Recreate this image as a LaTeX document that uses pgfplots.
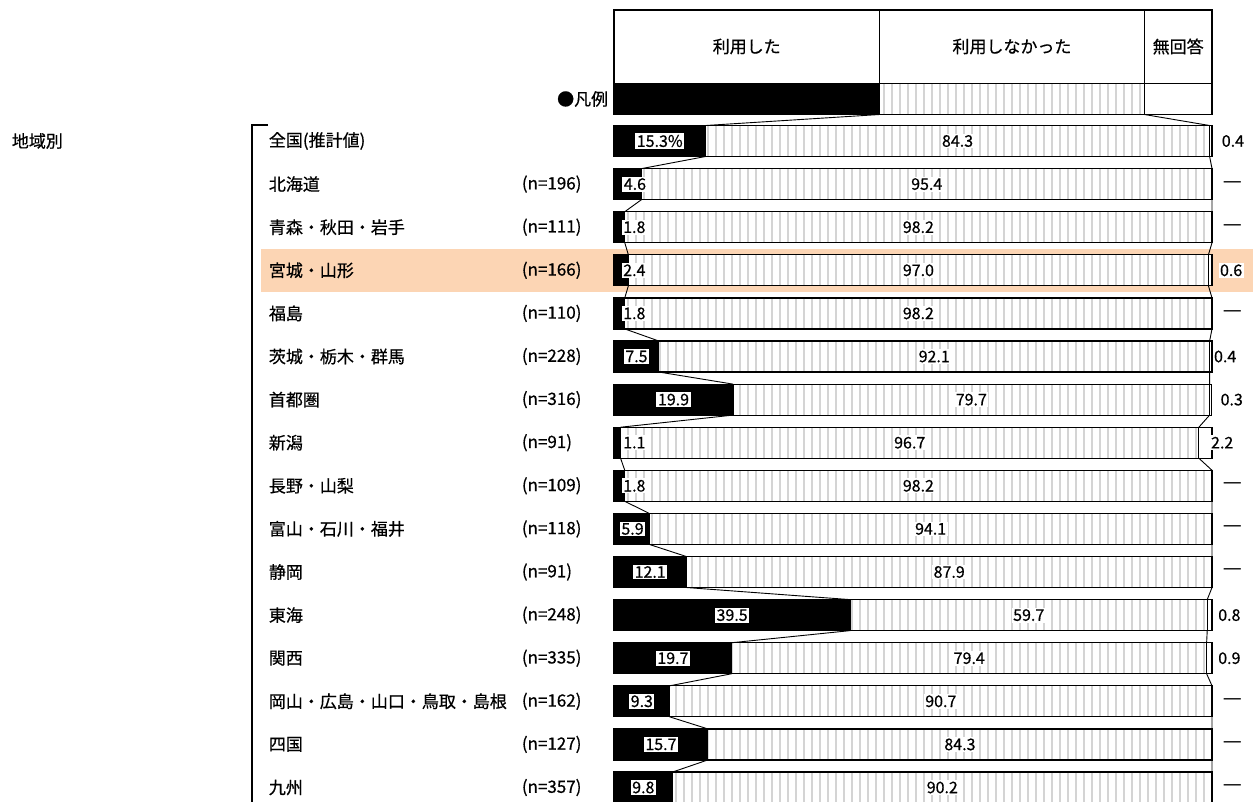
\documentclass[border=0pt]{standalone}
\usepackage{fontspec}
\setmainfont{Noto Sans CJK JP}[FakeBold=0.6]
\newfontfamily\dv{DejaVu Sans}
\usepackage{pgfplots}
\pgfplotsset{compat=1.18}
\usepackage{pgfplotstable}
\usetikzlibrary{patterns}
\definecolor{hl}{RGB}{252,213,180}
\definecolor{hatchc}{RGB}{212,212,212}
\pgfdeclarepatternformonly{vhatch}{\pgfpoint{0pt}{-2pt}}{\pgfpoint{8pt}{42pt}}{\pgfpoint{8pt}{40pt}}{%
  \pgfsetlinewidth{2pt}%
  \pgfpathmoveto{\pgfpoint{4pt}{-2pt}}\pgfpathlineto{\pgfpoint{4pt}{42pt}}\pgfusepath{stroke}}

\pgfplotstableread{
y     a    b    c
99.0  44.4 44.3 11.3
141.0 15.3 84.3 0.4
184.1 4.6  95.4 0
227.2 1.8  98.2 0
270.3 2.4  97.0 0.6
313.4 1.8  98.2 0
356.5 7.5  92.1 0.4
399.6 19.9 79.7 0.3
442.7 1.1  96.7 2.2
485.8 1.8  98.2 0
528.9 5.9  94.1 0
572.0 12.1 87.9 0
615.1 39.5 59.7 0.8
658.2 19.7 79.4 0.9
701.3 9.3  90.7 0
744.4 15.7 84.3 0
787.5 9.8  90.2 0
}\data

\tikzset{vl/.style={fill=white, inner sep=1.5pt, font=\fontsize{16pt}{18pt}\selectfont},
  nodash/.style={inner sep=1pt, font=\dv\fontsize{19pt}{20pt}\selectfont}}

\begin{document}
\fontsize{17pt}{20pt}\selectfont
\begin{tikzpicture}
\path[use as bounding box] (0pt,0pt) rectangle (1253pt,-801pt);
\fill[hl] (261pt,-249pt) rectangle (1253pt,-292pt);
\begin{axis}[
  at={(614pt,-801pt)}, anchor=south west,
  scale only axis, width=598pt, height=801pt,
  xmin=0, xmax=100, ymin=0, ymax=801, y dir=reverse,
  enlargelimits=false, hide axis, clip=false,
]
% bars: total, then cumulative hatched, then black
\addplot[xbar, bar width=31, fill=white, draw=black, line width=1.2pt]
  table[x expr=\thisrow{a}+\thisrow{b}+\thisrow{c}, y=y]{\data};
\addplot[xbar, bar width=31, preaction={fill=white}, pattern=vhatch, pattern color=hatchc, draw=black, line width=1.2pt]
  table[x expr=\thisrow{a}+\thisrow{b}, y=y]{\data};
\addplot[xbar, bar width=31, fill=black, draw=black, line width=1.2pt]
  table[x=a, y=y]{\data};

% header frame
\draw[line width=1.6pt] (axis cs:0,10) rectangle (axis cs:100,114.5);
\draw[line width=1.2pt] (axis cs:44.4,10) -- (axis cs:44.4,83.5);
\draw[line width=1.2pt] (axis cs:88.7,10) -- (axis cs:88.7,83.5);
\node at (axis cs:22.2,46.5) {利用した};
\node at (axis cs:66.55,46.5) {利用しなかった};
\node at (axis cs:94.35,46.5) {無回答};

% connector lines
\addplot[black, line width=0.9pt, mark=none, unbounded coords=jump] coordinates {
(44.4,114.5) (15.3,125.5) (nan,nan) (88.7,114.5) (99.6,125.5) (nan,nan)
(15.3,156.5) (4.6,168.6) (nan,nan) (99.6,156.5) (100,168.6) (nan,nan)
(4.6,199.6) (1.8,211.7) (nan,nan) (100,199.6) (100,211.7) (nan,nan)
(1.8,242.7) (2.4,254.8) (nan,nan) (100,242.7) (99.4,254.8) (nan,nan)
(2.4,285.8) (1.8,297.9) (nan,nan) (99.4,285.8) (100,297.9) (nan,nan)
(1.8,328.9) (7.5,341.0) (nan,nan) (100,328.9) (99.6,341.0) (nan,nan)
(7.5,372.0) (19.9,384.1) (nan,nan) (99.6,372.0) (99.6,384.1) (nan,nan)
(19.9,415.1) (1.1,427.2) (nan,nan) (99.6,415.1) (97.8,427.2) (nan,nan)
(1.1,458.2) (1.8,470.3) (nan,nan) (97.8,458.2) (100,470.3) (nan,nan)
(1.8,501.3) (5.9,513.4) (nan,nan) (100,501.3) (100,513.4) (nan,nan)
(5.9,544.4) (12.1,556.5) (nan,nan) (100,544.4) (100,556.5) (nan,nan)
(12.1,587.5) (39.5,599.6) (nan,nan) (100,587.5) (99.2,599.6) (nan,nan)
(39.5,630.6) (19.7,642.7) (nan,nan) (99.2,630.6) (99.1,642.7) (nan,nan)
(19.7,673.7) (9.3,685.8) (nan,nan) (99.1,673.7) (100,685.8) (nan,nan)
(9.3,716.8) (15.7,728.9) (nan,nan) (100,716.8) (100,728.9) (nan,nan)
(15.7,759.9) (9.8,772.0) (nan,nan) (100,759.9) (100,772.0)
};

% labels of the black segment
\node[vl] at (axis cs:7.65,141.0) {15.3\%};
\node[vl] at (axis cs:3.5,184.1) {4.6};
\node[vl] at (axis cs:3.4,227.2) {1.8};
\node[vl] at (axis cs:3.4,270.3) {2.4};
\node[vl] at (axis cs:3.4,313.4) {1.8};
\node[vl] at (axis cs:3.75,356.5) {7.5};
\node[vl] at (axis cs:9.95,399.6) {19.9};
\node[vl] at (axis cs:3.4,442.7) {1.1};
\node[vl] at (axis cs:3.4,485.8) {1.8};
\node[vl] at (axis cs:3.1,528.9) {5.9};
\node[vl] at (axis cs:6.05,572.0) {12.1};
\node[vl] at (axis cs:19.75,615.1) {39.5};
\node[vl] at (axis cs:9.85,658.2) {19.7};
\node[vl] at (axis cs:4.65,701.3) {9.3};
\node[vl] at (axis cs:7.85,744.4) {15.7};
\node[vl] at (axis cs:4.9,787.5) {9.8};
% labels of the hatched segment
\node[vl] at (axis cs:57.45,141.0) {84.3};
\node[vl] at (axis cs:52.3,184.1) {95.4};
\node[vl] at (axis cs:50.9,227.2) {98.2};
\node[vl] at (axis cs:50.9,270.3) {97.0};
\node[vl] at (axis cs:50.9,313.4) {98.2};
\node[vl] at (axis cs:53.55,356.5) {92.1};
\node[vl] at (axis cs:59.75,399.6) {79.7};
\node[vl] at (axis cs:49.45,442.7) {96.7};
\node[vl] at (axis cs:50.9,485.8) {98.2};
\node[vl] at (axis cs:52.95,528.9) {94.1};
\node[vl] at (axis cs:56.05,572.0) {87.9};
\node[vl] at (axis cs:69.35,615.1) {59.7};
\node[vl] at (axis cs:59.4,658.2) {79.4};
\node[vl] at (axis cs:54.65,701.3) {90.7};
\node[vl] at (axis cs:57.85,744.4) {84.3};
\node[vl] at (axis cs:54.9,787.5) {90.2};
% labels of the no-answer segment
\node[vl] at (axis cs:103.5,141.0) {0.4};
\node[nodash] at (axis cs:103.4,184.1) {—};
\node[nodash] at (axis cs:103.4,227.2) {—};
\node[vl] at (axis cs:103.2,270.3) {0.6};
\node[nodash] at (axis cs:103.4,313.4) {—};
\node[vl] at (axis cs:102.2,356.5) {0.4};
\node[vl] at (axis cs:103.3,399.6) {0.3};
\node[vl] at (axis cs:101.7,442.7) {2.2};
\node[nodash] at (axis cs:103.4,485.8) {—};
\node[nodash] at (axis cs:103.4,528.9) {—};
\node[nodash] at (axis cs:103.4,572.0) {—};
\node[vl] at (axis cs:102.9,615.1) {0.8};
\node[vl] at (axis cs:102.9,658.2) {0.9};
\node[nodash] at (axis cs:103.4,701.3) {—};
\node[nodash] at (axis cs:103.4,744.4) {—};
\node[nodash] at (axis cs:103.4,787.5) {—};
\end{axis}

% left side texts
\node[anchor=east] at (614pt,-99pt) {●凡例};
\node[anchor=west] at (6pt,-141pt) {地域別};
\draw[line width=1.2pt] (268pt,-125pt) -- (252pt,-125pt) -- (252pt,-805pt);
\foreach \nm/\nn/\yy in {全国(推計値)/{}/141.0, 北海道/(n=196)/184.1, 青森・秋田・岩手/(n=111)/227.2,
  宮城・山形/(n=166)/270.3, 福島/(n=110)/313.4, 茨城・栃木・群馬/(n=228)/356.5, 首都圏/(n=316)/399.6,
  新潟/(n=91)/442.7, 長野・山梨/(n=109)/485.8, 富山・石川・福井/(n=118)/528.9, 静岡/(n=91)/572.0,
  東海/(n=248)/615.1, 関西/(n=335)/658.2, 岡山・広島・山口・鳥取・島根/(n=162)/701.3, 四国/(n=127)/744.4,
  九州/(n=357)/787.5}{
  \node[anchor=west] at (263pt,{-\yy pt}) {\nm};
  \node[anchor=west] at (516pt,{-\yy pt}) {\nn};
}
\end{tikzpicture}
\end{document}
